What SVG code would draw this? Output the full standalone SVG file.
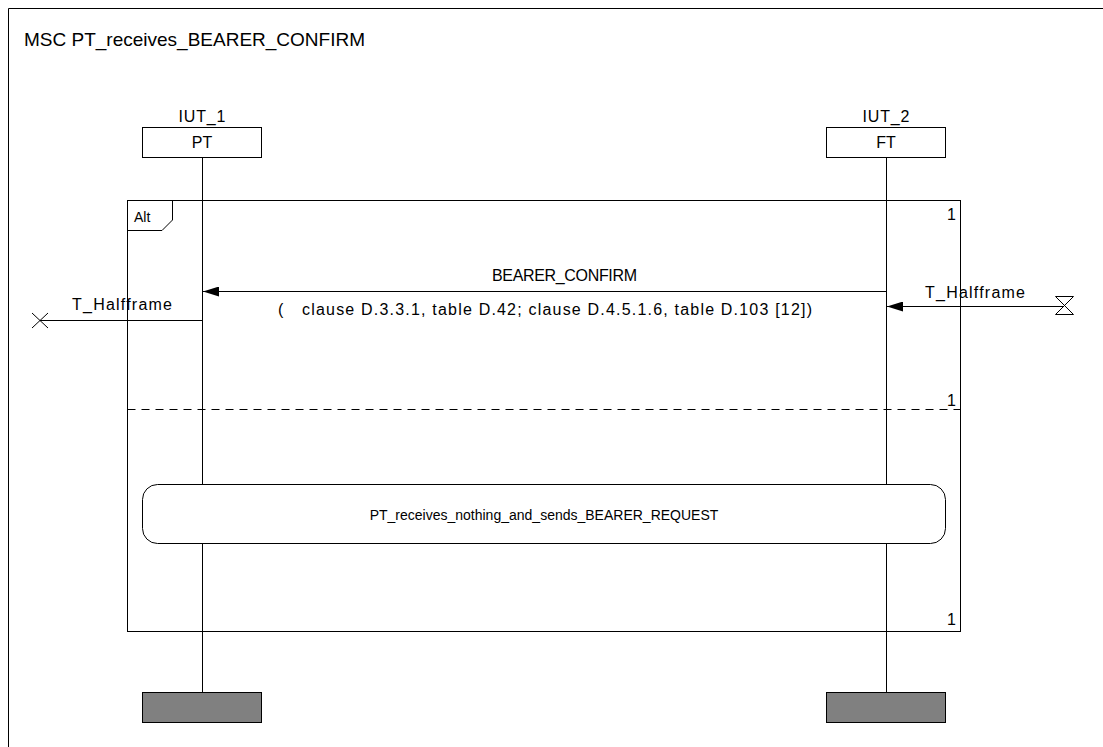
<svg xmlns="http://www.w3.org/2000/svg" width="1103" height="747" viewBox="0 0 1103 747">
<style>
text{font-family:"Liberation Sans",Arial,sans-serif;fill:#000}
.t{font-size:14px}
.m{font-size:16px}
.n{font-size:16px}
.ttl{font-size:19px}
.ln{stroke:#000;stroke-width:1;fill:none}
.box{fill:#fff;stroke:#000;stroke-width:1}
.end{fill:#808080;stroke:#000;stroke-width:1}
</style>
<defs>
<marker id="ah" markerWidth="16" markerHeight="10" refX="16" refY="5" orient="auto" markerUnits="userSpaceOnUse">
<path d="M0,0 L16,5 L0,10 Z" fill="#000"/>
</marker>
</defs>
<rect x="0" y="0" width="1103" height="747" fill="#fff"/>
<g id="frame">
<path d="M8.5,747 V8.5 H1103" class="ln"/>
<text class="ttl" x="24" y="46">MSC PT_receives_BEARER_CONFIRM</text>
</g>
<g id="alt">
<rect x="127.5" y="200.5" width="833" height="431" class="ln"/>
<path d="M127.5,230.5 H162 L172.5,220 V200.5" class="ln"/>
<text class="t" x="134" y="222">Alt</text>
<text class="n" x="947" y="220">1</text>
<line x1="127.5" y1="409.5" x2="960.5" y2="409.5" class="ln" stroke-dasharray="8,6"/>
<text class="n" x="947" y="406">1</text>
<text class="n" x="947" y="625">1</text>
</g>
<g id="IUT_1">
<text class="m" x="202" y="122" text-anchor="middle" textLength="47" lengthAdjust="spacing">IUT_1</text>
<rect x="142.5" y="127.5" width="119" height="30" class="box"/>
<text class="m" x="202" y="148" text-anchor="middle">PT</text>
<line x1="202.5" y1="157.5" x2="202.5" y2="692" class="ln"/>
<rect x="142.5" y="692.5" width="119" height="30" class="end"/>
</g>
<g id="IUT_2">
<text class="m" x="886" y="122" text-anchor="middle" textLength="47" lengthAdjust="spacing">IUT_2</text>
<rect x="826.5" y="127.5" width="119" height="30" class="box"/>
<text class="m" x="886" y="148" text-anchor="middle">FT</text>
<line x1="886.5" y1="157.5" x2="886.5" y2="692" class="ln"/>
<rect x="826.5" y="692.5" width="119" height="30" class="end"/>
</g>
<g id="connectors">
<line x1="886.5" y1="291.5" x2="203" y2="291.5" class="ln" marker-end="url(#ah)"/>
<text class="m" x="492" y="281" textLength="145" lengthAdjust="spacing">BEARER_CONFIRM</text>
<text class="m" x="278" y="315">(</text>
<text class="m" x="302" y="315" textLength="510" lengthAdjust="spacing">clause D.3.3.1, table D.42; clause D.4.5.1.6, table D.103 [12])</text>
<line x1="202.5" y1="320.5" x2="40" y2="320.5" class="ln"/>
<path d="M32,313 L48,328 M48,313 L32,328" class="ln"/>
<text class="m" x="72" y="310" textLength="100" lengthAdjust="spacing">T_Halfframe</text>
<line x1="1064" y1="306.5" x2="887" y2="306.5" class="ln" marker-end="url(#ah)"/>
<path d="M1055.5,296.5 H1073.5 L1055.5,314.5 H1073.5 Z" class="ln"/>
<text class="m" x="925" y="298" textLength="100" lengthAdjust="spacing">T_Halfframe</text>
</g>
<g id="ref">
<rect x="142.5" y="484.5" width="803" height="59" rx="15" ry="15" class="box"/>
<text class="t" x="544" y="520" text-anchor="middle">PT_receives_nothing_and_sends_BEARER_REQUEST</text>
</g>
</svg>
